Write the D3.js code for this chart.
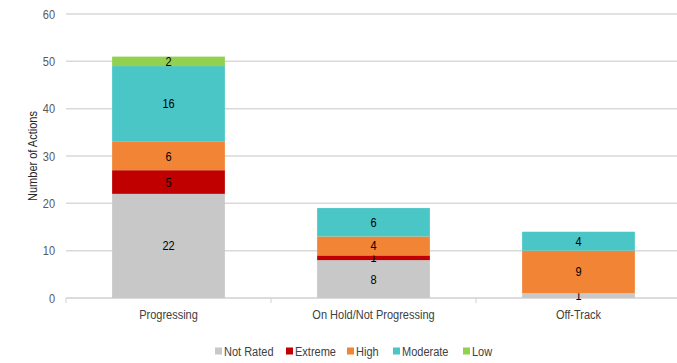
<!DOCTYPE html>
<html>
<head>
<meta charset="utf-8">
<script src="https://cdn.jsdelivr.net/npm/d3@7"></script>
<style>
  html, body { margin: 0; padding: 0; background: #fff; }
  svg text { font-family: "Liberation Sans", Arial, sans-serif; font-size: 12.5px; }
</style>
</head>
<body>
<svg id="chart" width="677" height="363"></svg>
<script>
// Action status by risk rating
const categories = ["Progressing", "On Hold/Not Progressing", "Off-Track"];
const seriesNames = ["Not Rated", "Extreme", "High", "Moderate", "Low"];
const notRated = [22, 8, 1];
const extreme  = [5, 1, 0];
const high     = [6, 4, 9];
const moderate = [16, 6, 4];
const low      = [2, 0, 0];
const yTicks   = [0, 10, 20, 30, 40, 50, 60];
const colors   = ["#c8c8c8", "#c00000", "#f28535", "#4bc6c6", "#92d050"];

const seriesValues = [notRated, extreme, high, moderate, low];
const rows = categories.map((c, i) => {
  const r = { category: c };
  seriesNames.forEach((s, k) => { r[s] = seriesValues[k][i]; });
  return r;
});

const svg = d3.select("#chart");
const margin = { left: 66, right: -4, top: 14, bottom: 65 };
const width = 677 - margin.left - margin.right;
const height = 363 - margin.top - margin.bottom;

const g = svg.append("g").attr("transform", `translate(${margin.left},${margin.top})`);

const x = d3.scaleBand().domain(categories).range([0, width]).paddingInner(0.45).paddingOuter(0.225);
const y = d3.scaleLinear().domain([0, 60]).range([height, 0]);

// gridlines
g.append("g").selectAll("line").data(yTicks.filter(t => t > 0)).join("line")
  .attr("x1", 0).attr("x2", width)
  .attr("y1", d => y(d)).attr("y2", d => y(d))
  .attr("stroke", "#d9d9d9").attr("stroke-width", 1.5);

// y axis labels
const yAxis = d3.axisLeft(y).tickValues(yTicks).tickSize(0).tickPadding(11);
const ya = g.append("g").call(yAxis);
ya.select(".domain").remove();
ya.selectAll("text").attr("fill", "#595959").style("font-size", null).attr("font-family", null);

// x axis baseline with category dividers
const step = x.step();
const bandEdges = d3.range(categories.length + 1).map(i => x.range()[0] + i * step);
const xa = g.append("g").attr("transform", `translate(0,${height})`);
xa.append("line").attr("x1", 0).attr("x2", width).attr("y1", 0).attr("y2", 0)
  .attr("stroke", "#d0d0d0").attr("stroke-width", 1.5);
xa.selectAll("line.tick").data(bandEdges).join("line").attr("class", "tick")
  .attr("x1", d => d).attr("x2", d => d).attr("y1", 0).attr("y2", 5)
  .attr("stroke", "#d0d0d0").attr("stroke-width", 1);
xa.selectAll("text.cat").data(categories).join("text").attr("class", "cat")
  .attr("x", d => x(d) + x.bandwidth() / 2).attr("y", 21)
  .attr("text-anchor", "middle").attr("fill", "#404040")
  .text(d => d);

// stacked bars
const stack = d3.stack().keys(seriesNames);
const layers = stack(rows);
const layerG = g.selectAll("g.layer").data(layers).join("g").attr("class", "layer")
  .attr("fill", (d, i) => colors[i]);
layerG.selectAll("rect").data(d => d).join("rect")
  .attr("x", d => x(d.data.category))
  .attr("width", x.bandwidth())
  .attr("y", d => y(d[1]))
  .attr("height", d => y(d[0]) - y(d[1]));

// value labels
layerG.each(function (layer) {
  d3.select(this).selectAll("text").data(layer.filter(d => d[1] - d[0] > 0)).join("text")
    .attr("x", d => x(d.data.category) + x.bandwidth() / 2)
    .attr("y", d => (y(d[0]) + y(d[1])) / 2)
    .attr("dy", "0.36em")
    .attr("text-anchor", "middle")
    .attr("fill", "#000")
    .text(d => d[1] - d[0]);
});

// y axis title
svg.append("text")
  .attr("transform", `translate(37,${margin.top + height / 2}) rotate(-90)`)
  .attr("text-anchor", "middle").attr("fill", "#262626")
  .text("Number of Actions");

// legend
const legendX = [215, 286, 347, 393, 463];
const legend = svg.append("g").attr("transform", "translate(0,351)");
seriesNames.forEach((s, i) => {
  legend.append("rect").attr("x", legendX[i]).attr("y", -3.5).attr("width", 7).attr("height", 7).attr("fill", colors[i]);
  legend.append("text").attr("x", legendX[i] + 9).attr("y", 0).attr("dy", "0.36em")
    .attr("fill", "#404040").text(s);
});

// condense all text to a narrow face
svg.selectAll("text").each(function () {
  const w = this.getComputedTextLength();
  if (w > 0) d3.select(this).attr("textLength", w * 0.88).attr("lengthAdjust", "spacingAndGlyphs");
});
</script>
</body>
</html>
